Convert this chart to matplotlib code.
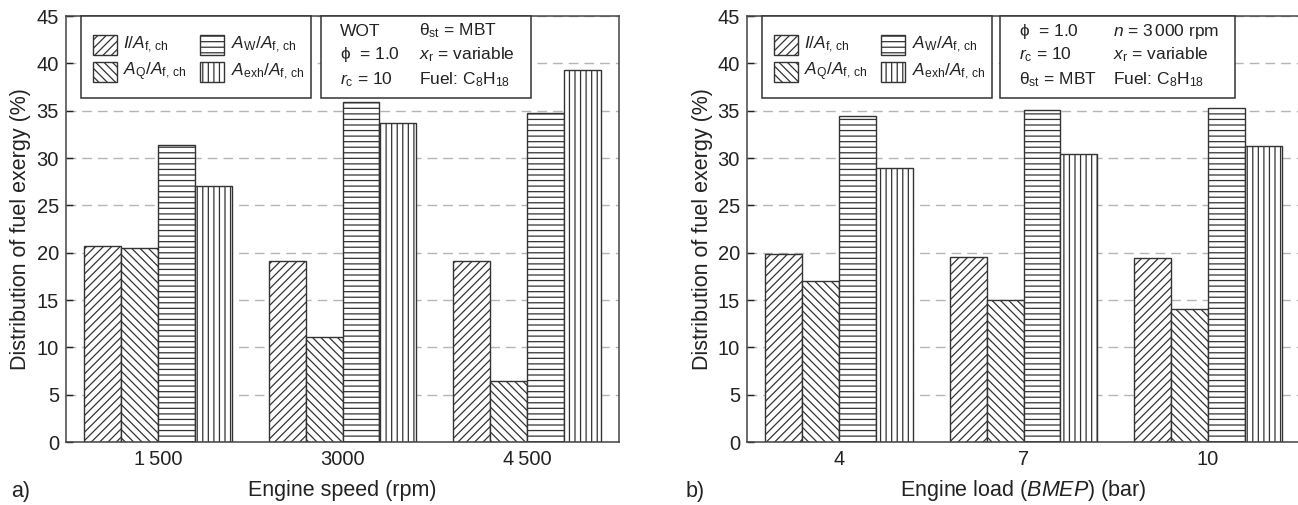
import numpy as np
import matplotlib
matplotlib.use('Agg')
import matplotlib.pyplot as plt
from matplotlib.patches import Rectangle

# Appearance
plt.rcParams.update({
    'font.family': ['Liberation Sans', 'DejaVu Sans'],
    'mathtext.fontset': 'custom',
    'mathtext.rm': 'Liberation Sans',
    'mathtext.it': 'Liberation Sans:italic',
    'mathtext.bf': 'Liberation Sans:bold',
    'hatch.linewidth': 0.9,
    'text.color': '#222222',
    'axes.labelcolor': '#222222',
    'xtick.color': '#222222',
    'ytick.color': '#222222',
})

# Data (% of fuel chemical exergy)
speed_labels = ['1\u2009500', '3000', '4\u2009500']
load_labels = ['4', '7', '10']

irr_speed = [20.7, 19.1, 19.1]
heat_speed = [20.5, 11.1, 6.4]
work_speed = [31.4, 35.9, 34.8]
exh_speed = [27.0, 33.7, 39.3]

irr_load = [19.9, 19.5, 19.4]
heat_load = [17.0, 15.0, 14.0]
work_load = [34.4, 35.1, 35.3]
exh_load = [28.9, 30.4, 31.3]

series_labels = [r'$I/A_{\rm f,\,ch}$', r'$A_{\rm Q}/A_{\rm f,\,ch}$',
                 r'$A_{\rm W}/A_{\rm f,\,ch}$', r'$A_{\rm exh}/A_{\rm f,\,ch}$']
hatches = ['////', '\\\\\\\\', '---', '|||']

info_speed = [['WOT', r'$\mathrm{\phi}$  = 1.0', r'$r_{\rm c}$ = 10'],
              [r'$\mathrm{\theta}_{\rm st}$ = MBT', r'$x_{\rm r}$ = variable',
               r'Fuel: C$_8$H$_{18}$']]
info_load = [[r'$\mathrm{\phi}$  = 1.0', r'$r_{\rm c}$ = 10',
              r'$\mathrm{\theta}_{\rm st}$ = MBT'],
             [r'$n$ = 3$\,$000 rpm', r'$x_{\rm r}$ = variable', r'Fuel: C$_8$H$_{18}$']]

W, H = 1298, 505
fig = plt.figure(figsize=(W / 100, H / 100), dpi=100)

edge = '#333333'
bar_w = 0.2
offsets = [-0.3, -0.1, 0.1, 0.3]

# key box layout (axes fractions): column handle x, text x; row centres
key_handle_x = [0.0488, 0.2423]
key_text_x = [0.103, 0.2984]
key_rows_y = [0.932, 0.8685]
key_hw, key_hh = 0.0434, 0.047
box_y0 = 0.8075


def draw_box(ax, x0, x1):
    ax.add_patch(Rectangle((x0, box_y0), x1 - x0, 1.0 - box_y0, transform=ax.transAxes,
                           facecolor='white', edgecolor=edge, linewidth=1.1,
                           zorder=6, clip_on=False))


def draw_panel(ax, labels, series, xlabel, tag, tag_x, info, box2, cols_x, ylab_x):
    x = np.arange(len(labels))
    for vals, off, h in zip(series, offsets, hatches):
        ax.bar(x + off, vals, width=bar_w, facecolor='white', edgecolor=edge,
               hatch=h, linewidth=1.0, zorder=2)

    ax.set_xlim(-0.5, 2.5)
    ax.set_ylim(0, 45)
    ax.set_yticks(np.arange(0, 46, 5))
    ax.set_xticks(x)
    ax.set_xticklabels(labels)
    ax.tick_params(axis='y', direction='in', length=5, width=1, labelsize=14.5, pad=5)
    ax.tick_params(axis='x', length=0, labelsize=14.5, pad=6)
    ax.yaxis.grid(True, linestyle=(0, (7, 4.3)), color='#b5b5b5', linewidth=1.0)
    ax.set_axisbelow(True)
    for sp in ax.spines.values():
        sp.set_color('#444444')
        sp.set_linewidth(1.1)

    ax.set_ylabel('Distribution of fuel exergy (%)', fontsize=15.5, va='center')
    ax.yaxis.set_label_coords(ylab_x, 0.5)
    ax.set_xlabel(xlabel, fontsize=15.5, va='center')
    ax.xaxis.set_label_coords(0.5, -0.113)
    fig.text(tag_x / W, 1 - 491 / H, tag, fontsize=15.5, ha='center', va='center')

    # hatch key box (two columns: I, Q | W, exh)
    draw_box(ax, 0.027, 0.443)
    for i, (h, lab) in enumerate(zip(hatches, series_labels)):
        col, row = divmod(i, 2)
        yc = key_rows_y[row]
        ax.add_patch(Rectangle((key_handle_x[col], yc - key_hh / 2), key_hw, key_hh,
                               transform=ax.transAxes, facecolor='white',
                               edgecolor=edge, hatch=h, linewidth=1.0, zorder=7))
        ax.text(key_text_x[col], yc, lab, transform=ax.transAxes, fontsize=12.5,
                ha='left', va='center', zorder=7)

    # operating condition box
    draw_box(ax, *box2)
    rows_y = [0.9645, 0.9085, 0.851]
    for cx, col in zip(cols_x, info):
        for ry, txt in zip(rows_y, col):
            ax.text(cx, ry, txt, transform=ax.transAxes, fontsize=12.5,
                    ha='left', va='center', zorder=7)


ax1 = fig.add_axes([66 / W, (H - 442) / H, 553 / W, 426 / H])
draw_panel(ax1, speed_labels, [irr_speed, heat_speed, work_speed, exh_speed],
           'Engine speed (rpm)', 'a)', 21, info_speed, (0.461, 0.841),
           (0.4955, 0.638), -0.083)

ax2 = fig.add_axes([747 / W, (H - 442) / H, 553 / W, 426 / H])
draw_panel(ax2, load_labels, [irr_load, heat_load, work_load, exh_load],
           r'Engine load ($BMEP$) (bar)', 'b)', 695, info_load, (0.4575, 0.8825),
           (0.492, 0.662), -0.081)

fig.savefig('out.png', dpi=100)
